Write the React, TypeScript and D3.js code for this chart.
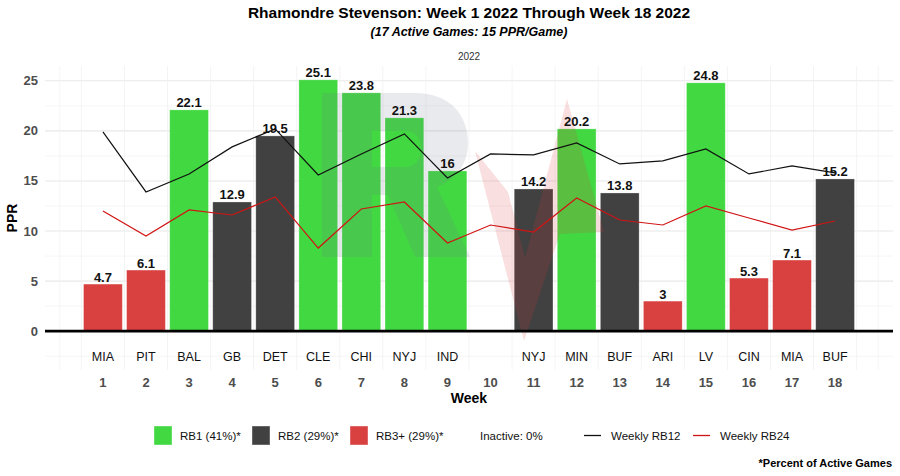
import React from 'react';
import * as d3 from 'd3';

// weekly fantasy data, week 10 = bye
const weeks = [1, 2, 3, 4, 5, 6, 7, 8, 9, 10, 11, 12, 13, 14, 15, 16, 17, 18];
const opponents = ['MIA', 'PIT', 'BAL', 'GB', 'DET', 'CLE', 'CHI', 'NYJ', 'IND', '', 'NYJ', 'MIN', 'BUF', 'ARI', 'LV', 'CIN', 'MIA', 'BUF'];
const points: (number | null)[] = [4.7, 6.1, 22.1, 12.9, 19.5, 25.1, 23.8, 21.3, 16, null, 14.2, 20.2, 13.8, 3, 24.8, 5.3, 7.1, 15.2];
const roles = ['RB3', 'RB3', 'RB1', 'RB2', 'RB2', 'RB1', 'RB1', 'RB1', 'RB1', '', 'RB2', 'RB1', 'RB2', 'RB3', 'RB1', 'RB3', 'RB3', 'RB2'];
const rb12 = [19.9, 13.9, 15.7, 18.4, 20.2, 15.6, 17.7, 19.7, 15.3, 17.7, 17.6, 18.8, 16.7, 17.0, 18.2, 15.7, 16.5, 15.8];
const rb24 = [12.0, 9.5, 12.1, 11.6, 13.4, 8.3, 12.2, 12.9, 8.8, 10.6, 9.9, 13.3, 11.1, 10.6, 12.5, 11.3, 10.1, 11.0];
const yTicks = [0, 5, 10, 15, 20, 25];

const roleColor: Record<string, string> = { RB1: '#42d842', RB2: '#414141', RB3: '#d94141' };

const legendItems = [
  { label: 'RB1 (41%)*', kind: 'box', color: roleColor.RB1 },
  { label: 'RB2 (29%)*', kind: 'box', color: roleColor.RB2 },
  { label: 'RB3+ (29%)*', kind: 'box', color: roleColor.RB3 },
  { label: 'Inactive: 0%', kind: 'none', color: 'none' },
  { label: 'Weekly RB12', kind: 'line', color: '#111111' },
  { label: 'Weekly RB24', kind: 'line', color: '#d01515' },
];
const legendX = [154, 252, 350, 458, 584, 693];

const FONT = '"Liberation Sans", Arial, Helvetica, sans-serif';

// "RV" logo watermark, page pixels
const logoR =
  'M322,93 L415,93 C450,93 468,115 468,143 C468,165 455,180 437,187 L470,257 L415,257 L388,195 L372,195 L372,257 L322,257 Z ' +
  'M372,131 L405,131 C416,131 421,139 421,149 C421,160 414,167 405,167 L372,167 Z';
const logoV =
  'M475,151 L508,192 L536,300 L524,341 Z ' +
  'M524,341 L514,300 L567,99 L604,232 L560,234 Z';

const App: React.FC = () => {
  const width = 900;
  const height = 476;
  const panel = { left: 45, right: 893, top: 66, bottom: 370 };

  const x = d3.scaleLinear().domain([-0.345, 19.345]).range([panel.left, panel.right]);
  const y = d3.scaleLinear().domain([-3.88, 26.48]).range([panel.bottom, panel.top]);
  const step = x(1) - x(0);
  const barW = step * 0.9;

  const vGrid = [0, ...d3.range(0.5, 19, 1), 19];
  const hMinor = d3.range(-2.5, 26, 5);

  const line = d3.line<number>().x((_, i) => x(weeks[i])).y(d => y(d));

  const cx = (panel.left + panel.right) / 2;

  return (
    <svg width={width} height={height} style={{ display: 'block', position: 'absolute', left: 0, top: 0, background: '#fff' }} fontFamily={FONT}>
      <rect width={width} height={height} fill="#fff" />
      <text x={cx} y={18} textAnchor="middle" fontSize={15.5} fontWeight="bold" fill="#000">
        Rhamondre Stevenson: Week 1 2022 Through Week 18 2022
      </text>
      <text x={cx} y={36} textAnchor="middle" fontSize={12.5} fontWeight="bold" fontStyle="italic" fill="#000">
        (17 Active Games: 15 PPR/Game)
      </text>
      <text x={cx} y={60} textAnchor="middle" fontSize={10} fill="#333">2022</text>

      {/* grid */}
      <g>
        {hMinor.map(v => (
          <line key={'hm' + v} x1={panel.left} x2={panel.right} y1={y(v)} y2={y(v)} stroke="#efefef" strokeWidth={0.6} />
        ))}
        {yTicks.map(v => (
          <line key={'hM' + v} x1={panel.left} x2={panel.right} y1={y(v)} y2={y(v)} stroke="#e8e8e8" strokeWidth={1.1} />
        ))}
        {vGrid.map(v => (
          <line key={'v' + v} x1={x(v)} x2={x(v)} y1={panel.top} y2={panel.bottom} stroke="#efefef" strokeWidth={0.7} />
        ))}
      </g>

      {/* bars */}
      <g>
        {weeks.map((w, i) => {
          const v = points[i];
          if (v == null) return null;
          return (
            <rect key={'b' + w} x={x(w) - barW / 2} y={y(v)} width={barW} height={y(0) - y(v)}
              fill={roleColor[roles[i]]} stroke="#ffffff" strokeOpacity={0.35} strokeWidth={0.8} />
          );
        })}
      </g>

      {/* watermark */}
      <path d={logoV} fill="#d83a3a" opacity={0.16} />
      <path d={logoR} fill="#6e7488" fillRule="evenodd" opacity={0.15} />

      {/* zero line */}
      <line x1={panel.left} x2={panel.right} y1={y(0)} y2={y(0)} stroke="#000" strokeWidth={2.6} />

      {/* weekly lines */}
      <path d={line(rb12) || ''} fill="none" stroke="#111111" strokeWidth={1.2} />
      <path d={line(rb24) || ''} fill="none" stroke="#d01515" strokeWidth={1.2} />

      {/* bar labels */}
      <g>
        {weeks.map((w, i) => {
          const v = points[i];
          if (v == null) return null;
          return (
            <text key={'l' + w} x={x(w)} y={y(v) - 2.5} textAnchor="middle" fontSize={13} fontWeight="bold" fill="#111">
              {v}
            </text>
          );
        })}
      </g>

      {/* opponents */}
      <g>
        {weeks.map((w, i) => (
          <text key={'o' + w} x={x(w)} y={y(-2.5) + 4.5} textAnchor="middle" fontSize={12.5} fill="#111">
            {opponents[i]}
          </text>
        ))}
      </g>

      {/* axes */}
      <g>
        {yTicks.map(v => (
          <text key={'yt' + v} x={38} y={y(v) + 4.5} textAnchor="end" fontSize={13} fontWeight="bold" fill="#4d4d4d">{v}</text>
        ))}
        {weeks.map(w => (
          <text key={'xt' + w} x={x(w)} y={387} textAnchor="middle" fontSize={13} fontWeight="bold" fill="#4d4d4d">{w}</text>
        ))}
        <text x={cx} y={403} textAnchor="middle" fontSize={14} fontWeight="bold" fill="#000">Week</text>
        <text transform={`translate(17,${(panel.top + panel.bottom) / 2}) rotate(-90)`} textAnchor="middle" fontSize={14} fontWeight="bold" fill="#000">PPR</text>
      </g>

      {/* legend */}
      <g>
        {legendItems.map((it, i) => {
          const lx = legendX[i];
          return (
            <g key={'lg' + i}>
              {it.kind === 'box' && <rect x={lx} y={426} width={18} height={19} fill={it.color} stroke="#fff" strokeOpacity={0.4} />}
              {it.kind === 'line' && <line x1={lx} x2={lx + 17} y1={435.5} y2={435.5} stroke={it.color} strokeWidth={1.3} />}
              <text x={it.kind === 'box' ? lx + 26 : it.kind === 'line' ? lx + 27 : lx + 22} y={440} fontSize={11.5} fill="#111">{it.label}</text>
            </g>
          );
        })}
        <text x={892} y={467} textAnchor="end" fontSize={11} fontWeight="bold" fill="#000">*Percent of Active Games</text>
      </g>
    </svg>
  );
};

export default App;
